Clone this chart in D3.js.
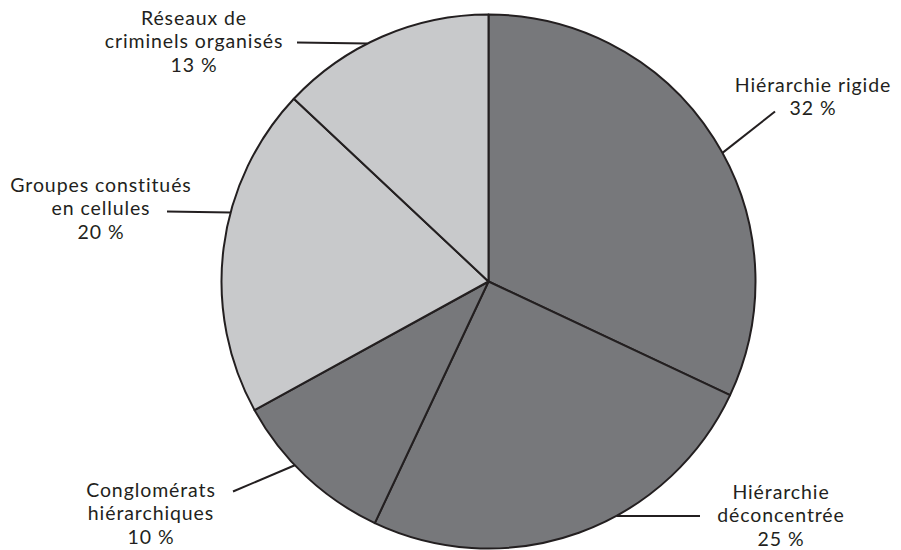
<!DOCTYPE html>
<html lang="fr">
<head>
<meta charset="utf-8">
<script src="https://cdn.jsdelivr.net/npm/d3@7/dist/d3.min.js"></script>
<style>
  html, body { margin: 0; padding: 0; background: #ffffff; }
  svg text { font-family: Lato, "Open Sans", sans-serif; font-size: 19.5px; letter-spacing: 0.9px; fill: #231f20; }
</style>
</head>
<body>
<svg id="chart" width="901" height="550"></svg>
<script>
// Types of organised crime groups, share in percent (clockwise from 12 o'clock)
const categories = [
  "Hiérarchie rigide",
  "Hiérarchie déconcentrée",
  "Conglomérats hiérarchiques",
  "Groupes constitués en cellules",
  "Réseaux de criminels organisés"
];
const shares = [32, 25, 10, 20, 13];
// Label text, line by line
const labelLines = [
  ["Hiérarchie rigide", "32 %"],
  ["Hiérarchie", "déconcentrée", "25 %"],
  ["Conglomérats", "hiérarchiques", "10 %"],
  ["Groupes constitués", "en cellules", "20 %"],
  ["Réseaux de", "criminels organisés", "13 %"]
];
const tone = ["dark", "dark", "dark", "light", "light"];

// Layout
const cx = 488.5, cy = 281.5, radius = 267;
const lineHeight = 23.4;
// Label placement: text centre x, first baseline y, leader start (x, y) and
// the angle (degrees, clockwise from top) where the leader meets the rim
const labelLayout = [
  { x: 813, y: 92,  lx: 775, ly: 111.5, deg: 61.2 },
  { x: 781, y: 499, lx: 700, ly: 516,   deg: 151.4 },
  { x: 151, y: 497, lx: 233, ly: 491.5, deg: 226.5 },
  { x: 101, y: 192, lx: 167, ly: 211.5, deg: 285 },
  { x: 194, y: 25,  lx: 297, ly: 42.5,  deg: 333 }
];
const fills = { dark: "#77787b", light: "#c8c9cb" };
const strokeColor = "#231f20";

const svg = d3.select("#chart");
const g = svg.append("g").attr("transform", `translate(${cx},${cy})`);

const data = categories.map((c, i) => ({ name: c, value: shares[i], tone: tone[i] }));
const pie = d3.pie().value(d => d.value).sort(null);
const arc = d3.arc().innerRadius(0).outerRadius(radius);

g.selectAll("path.slice")
  .data(pie(data))
  .join("path")
  .attr("class", "slice")
  .attr("d", arc)
  .attr("fill", d => fills[d.data.tone])
  .attr("stroke", strokeColor)
  .attr("stroke-width", 2)
  .attr("stroke-linejoin", "round");

// Leader lines from label to the rim of the pie
const rim = deg => {
  const a = deg * Math.PI / 180;
  return [cx + radius * Math.sin(a), cy - radius * Math.cos(a)];
};
labelLayout.forEach((L, i) => {
  const [ex, ey] = rim(L.deg);
  svg.append("line")
    .attr("x1", L.lx).attr("y1", L.ly)
    .attr("x2", ex).attr("y2", ey)
    .attr("stroke", strokeColor)
    .attr("stroke-width", 2);

  const t = svg.append("text")
    .attr("text-anchor", "middle")
    .attr("x", L.x).attr("y", L.y);
  labelLines[i].forEach((line, j) => {
    t.append("tspan")
      .attr("x", L.x)
      .attr("y", L.y + j * lineHeight)
      .text(line);
  });
});
</script>
</body>
</html>
